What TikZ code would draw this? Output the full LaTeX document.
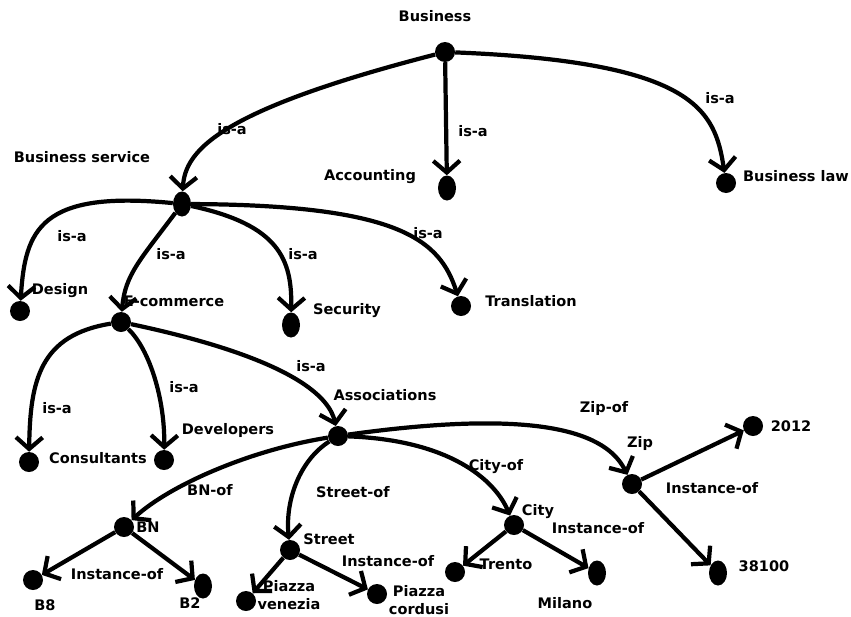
\documentclass[tikz,border=0pt]{standalone}
\usepackage{fontspec}
\setmainfont{DejaVu Sans}
\usetikzlibrary{positioning, arrows.meta, shapes.geometric}

\begin{document}
\begin{tikzpicture}[x=0.03cm,y=-0.03cm,>={Straight Barb[length=3.5mm,width=8mm]},font=\fontsize{12.4}{15}\selectfont\bfseries]

	\tikzstyle{dot}=[fill=black,circle,inner sep=0pt,minimum size=6mm]
	\tikzstyle{oval}=[fill=black,ellipse,inner sep=0pt,minimum width=5.4mm,minimum height=7.5mm]
	\tikzstyle{edge}=[line width=3.6pt,->]
	\tikzstyle{lbl}=[inner sep=1pt,align=center]

	\useasboundingbox (0,0) rectangle (851,616);

	% concepts
	\node[dot] (bus) at (445,52) {};
	\node[oval] (acc) at (447,188) {};
	\node[dot] (bl) at (726,183) {};
	\node[oval] (bsv) at (182,204) {};
	\node[dot] (des) at (20,311) {};
	\node[dot] (ecom) at (121,322) {};
	\node[oval] (sec) at (291,325) {};
	\node[dot] (tra) at (461,306) {};
	\node[dot] (con) at (29,462) {};
	\node[dot] (dev) at (164,460) {};
	\node[dot] (asc) at (338,436) {};
	\node[dot] (bn) at (124,527) {};
	\node[dot] (b8) at (33,580) {};
	\node[oval] (b2) at (203,586) {};
	\node[dot] (str) at (290,550) {};
	\node[dot] (pv) at (246,601) {};
	\node[dot] (pc) at (377,594) {};
	\node[dot] (cty) at (514,525) {};
	\node[dot] (tre) at (455,572) {};
	\node[oval] (mil) at (597,573) {};
	\node[dot] (zip) at (632,484) {};
	\node[dot] (y2012) at (753,426) {};
	\node[oval] (z38100) at (718,573) {};

	% names
	\node[lbl] (busl) at (435,16) {Business};
	\node[lbl] (accl) at (370,177) {Accounting};
	\node[lbl] (bll) at (796,176) {Business law};
	\node[lbl] (bsvl) at (82,157) {Business service};
	\node[lbl] (desl) at (60,291) {Design};
	\node[lbl] (ecoml) at (174,301) {E-commerce};
	\node[lbl] (secl) at (347,311) {Security};
	\node[lbl] (tral) at (531,301) {Translation};
	\node[lbl] (conl) at (98,458) {Consultants};
	\node[lbl] (devl) at (228,430) {Developers};
	\node[lbl] (ascl) at (385,395) {Associations};
	\node[lbl] (bnl) at (148,527) {BN};
	\node[lbl] (b8l) at (45,605) {B8};
	\node[lbl] (b2l) at (190,603) {B2};
	\node[lbl] (strl) at (329,539) {Street};
	\node[lbl] (pvl) at (289,595) {Piazza\\venezia};
	\node[lbl] (pcl) at (419,600) {Piazza\\cordusi};
	\node[lbl] (ctyl) at (538,512) {City};
	\node[lbl] (trel) at (506,564) {Trento};
	\node[lbl] (mill) at (565,603) {Milano};
	\node[lbl] (zipl) at (640,443) {Zip};
	\node[lbl] (y2012l) at (791,426) {2012};
	\node[lbl] (z38100l) at (764,566) {38100};

	% relations
	\node[lbl] (r1) at (232,129) {is-a};
	\node[lbl] (r2) at (473,131) {is-a};
	\node[lbl] (r3) at (720,98) {is-a};
	\node[lbl] (r4) at (72,236) {is-a};
	\node[lbl] (r5) at (171,254) {is-a};
	\node[lbl] (r6) at (303,254) {is-a};
	\node[lbl] (r7) at (428,233) {is-a};
	\node[lbl] (r8) at (57,408) {is-a};
	\node[lbl] (r9) at (184,387) {is-a};
	\node[lbl] (r10) at (311,366) {is-a};
	\node[lbl] (r11) at (604,408) {Zip-of};
	\node[lbl] (r12) at (210,490) {BN-of};
	\node[lbl] (r13) at (353,492) {Street-of};
	\node[lbl] (r14) at (496,467) {City-of};
	\node[lbl] (r15) at (117,574) {Instance-of};
	\node[lbl] (r16) at (388,561) {Instance-of};
	\node[lbl] (r17) at (598,528) {Instance-of};
	\node[lbl] (r18) at (712,488) {Instance-of};

	\draw[edge] (bus) .. controls (220,110) and (185,150) .. (bsv);
	\draw[edge] (bus) -- (acc);
	\draw[edge] (bus) .. controls (695,62) and (715,110) .. (bl);
	\draw[edge] (bsv) .. controls (40,190) and (25,230) .. (des);
	\draw[edge] (bsv) .. controls (140,260) and (125,275) .. (ecom);
	\draw[edge] (bsv) .. controls (280,225) and (292,260) .. (sec);
	\draw[edge] (bsv) .. controls (400,205) and (440,240) .. (tra);
	\draw[edge] (ecom) .. controls (40,335) and (30,380) .. (con);
	\draw[edge] (ecom) .. controls (150,350) and (165,400) .. (dev);
	\draw[edge] (ecom) .. controls (300,360) and (330,400) .. (asc);
	\draw[edge] (asc) .. controls (560,405) and (610,440) .. (zip);
	\draw[edge] (asc) .. controls (250,450) and (170,485) .. (bn);
	\draw[edge] (asc) .. controls (300,460) and (285,500) .. (str);
	\draw[edge] (asc) .. controls (450,440) and (495,480) .. (cty);
	\draw[edge] (bn) -- (b8);
	\draw[edge] (bn) -- (b2);
	\draw[edge] (str) -- (pv);
	\draw[edge] (str) -- (pc);
	\draw[edge] (cty) -- (tre);
	\draw[edge] (cty) -- (mil);
	\draw[edge] (zip) -- (y2012);
	\draw[edge] (zip) -- (z38100);
\end{tikzpicture}
\end{document}
